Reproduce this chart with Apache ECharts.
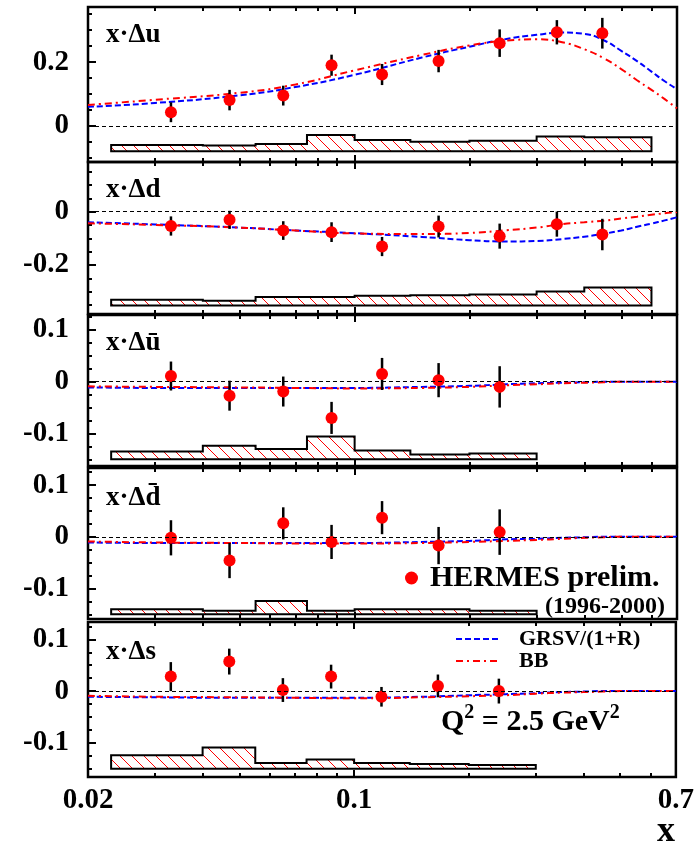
<!DOCTYPE html>
<html>
<head>
<meta charset="utf-8">
<script src="https://cdn.jsdelivr.net/npm/echarts@6/dist/echarts.min.js"></script>
<style>
  html, body { margin: 0; padding: 0; background: #fff; }
  #chart { width: 697px; height: 845px; }
</style>
</head>
<body>
<div id="chart"></div>
<script>
// x of the HERMES points, edges of the systematic-error bins, x grid of the fit curves
const pointX = [0.033, 0.047, 0.065, 0.087, 0.118, 0.166, 0.240, 0.339, 0.446];
const binEdges = [0.023, 0.04, 0.055, 0.075, 0.1, 0.14, 0.2, 0.3, 0.4, 0.6];
const curveX = [0.02, 0.03, 0.05, 0.07, 0.1, 0.15, 0.2, 0.25, 0.3, 0.35, 0.4, 0.45, 0.5, 0.55, 0.6, 0.65, 0.7];

// x·Δu
const duVal = [0.043, 0.081, 0.095, 0.190, 0.161, 0.203, 0.259, 0.293, 0.290];
const duErr = [0.031, 0.032, 0.031, 0.033, 0.033, 0.035, 0.043, 0.038, 0.048];
const duSyst = [-0.059, -0.061, -0.056, -0.028, -0.044, -0.049, -0.046, -0.033, -0.035];
const duGrsv = [0.060, 0.072, 0.096, 0.122, 0.160, 0.214, 0.248, 0.272, 0.285, 0.292, 0.288, 0.268, 0.235, 0.203, 0.170, 0.140, 0.115];
const duBb = [0.066, 0.082, 0.104, 0.130, 0.174, 0.222, 0.252, 0.267, 0.271, 0.262, 0.240, 0.212, 0.178, 0.143, 0.113, 0.084, 0.055];

// x·Δd
const ddVal = [-0.054, -0.031, -0.071, -0.077, -0.131, -0.056, -0.092, -0.047, -0.086];
const ddErr = [0.036, 0.034, 0.035, 0.037, 0.036, 0.041, 0.047, 0.047, 0.059];
const ddSyst = [-0.331, -0.334, -0.320, -0.320, -0.316, -0.314, -0.311, -0.300, -0.285];
const ddGrsv = [-0.040, -0.048, -0.060, -0.071, -0.081, -0.095, -0.107, -0.112, -0.110, -0.103, -0.094, -0.083, -0.071, -0.057, -0.045, -0.033, -0.021];
const ddBb = [-0.044, -0.050, -0.060, -0.071, -0.082, -0.084, -0.080, -0.070, -0.060, -0.047, -0.040, -0.034, -0.026, -0.019, -0.012, -0.006, -0.002];

// x·Δū
const ubVal = [0.011, -0.027, -0.019, -0.070, 0.015, 0.003, -0.010];
const ubErr = [0.028, 0.029, 0.029, 0.031, 0.031, 0.033, 0.040];
const ubSyst = [-0.135, -0.124, -0.130, -0.106, -0.133, -0.141, -0.139];
const ubGrsv = [-0.011, -0.012, -0.012, -0.012, -0.012, -0.010, -0.008, -0.005, -0.003, -0.002, -0.001, 0, 0, 0, 0, 0, 0];
const ubBb = [-0.009, -0.010, -0.011, -0.012, -0.013, -0.012, -0.010, -0.007, -0.005, -0.003, -0.002, -0.001, 0, 0, 0, 0, 0];

// x·Δd̄
const dbVal = [-0.002, -0.046, 0.026, -0.010, 0.037, -0.017, 0.009];
const dbErr = [0.034, 0.034, 0.031, 0.033, 0.032, 0.036, 0.044];
const dbSyst = [-0.140, -0.143, -0.124, -0.143, -0.140, -0.140, -0.143];
const dbGrsv = [-0.011, -0.012, -0.012, -0.012, -0.012, -0.010, -0.008, -0.005, -0.004, -0.002, -0.001, 0, 0, 0, 0, 0, 0];
const dbBb = [-0.009, -0.011, -0.012, -0.013, -0.013, -0.012, -0.010, -0.008, -0.006, -0.004, -0.002, -0.001, 0, 0, 0, 0, 0];

// x·Δs
const dsVal = [0.028, 0.057, 0.002, 0.028, -0.011, 0.010, 0.000];
const dsErr = [0.028, 0.025, 0.023, 0.023, 0.019, 0.022, 0.024];
const dsSyst = [-0.124, -0.109, -0.139, -0.132, -0.139, -0.141, -0.143];
const dsGrsv = [-0.011, -0.012, -0.013, -0.013, -0.013, -0.011, -0.008, -0.006, -0.004, -0.002, -0.001, 0, 0, 0, 0, 0, 0];
const dsBb = [-0.009, -0.011, -0.012, -0.013, -0.014, -0.012, -0.010, -0.008, -0.005, -0.003, -0.002, -0.001, 0, 0, 0, 0, 0];

// lower edge of the systematic band in each panel
const systBase = [-0.079, -0.352, -0.150, -0.150, -0.150];

const panels = [
  { label: 'x·Δu', val: duVal, err: duErr, syst: duSyst, grsv: duGrsv, bb: duBb },
  { label: 'x·Δd', val: ddVal, err: ddErr, syst: ddSyst, grsv: ddGrsv, bb: ddBb },
  { label: 'x·Δū', val: ubVal, err: ubErr, syst: ubSyst, grsv: ubGrsv, bb: ubBb },
  { label: 'x·Δd\u0304', val: dbVal, err: dbErr, syst: dbSyst, grsv: dbGrsv, bb: dbBb },
  { label: 'x·Δs', val: dsVal, err: dsErr, syst: dsSyst, grsv: dsGrsv, bb: dsBb },
];

// panel geometry and y ranges
const frames = [
  { top: 7, height: 155, min: -0.1125, max: 0.372, major: [0, 0.2], step: 0.05, labelY: 35 },
  { top: 162, height: 152, min: -0.384, max: 0.186, major: [-0.2, 0], step: 0.05, labelY: 190 },
  { top: 315, height: 151, min: -0.163, max: 0.129, major: [-0.1, 0, 0.1], step: 0.025, labelY: 343 },
  { top: 468, height: 151, min: -0.159, max: 0.133, major: [-0.1, 0, 0.1], step: 0.025, labelY: 498 },
  { top: 622, height: 155, min: -0.166, max: 0.1335, major: [-0.1, 0, 0.1], step: 0.025, labelY: 652 },
];

const xMajorTicks = [0.1];
const xMinorTicks = [0.03, 0.04, 0.05, 0.06, 0.07, 0.08, 0.09, 0.2, 0.3, 0.4, 0.5, 0.6];
const xLabels = [0.02, 0.1, 0.7];

const SERIF = '"Liberation Serif", "Times New Roman", serif';

function minorTicks(f) {
  const out = [];
  for (let k = Math.ceil(f.min / f.step); k * f.step <= f.max; k++) {
    const v = Math.round(k * f.step * 1e4) / 1e4;
    if (f.major.indexOf(v) < 0) out.push(v);
  }
  return out;
}

// red hatching for the systematic bands
const hatchCanvas = document.createElement('canvas');
hatchCanvas.width = 12;
hatchCanvas.height = 12;
const hc = hatchCanvas.getContext('2d');
hc.strokeStyle = '#ff0000';
hc.lineWidth = 1;
hc.beginPath();
hc.moveTo(0, 0); hc.lineTo(12, 12);
hc.moveTo(-2, 10); hc.lineTo(2, 14);
hc.moveTo(10, -2); hc.lineTo(14, 2);
hc.stroke();
const hatch = { image: hatchCanvas, repeat: 'repeat' };

const chart = echarts.init(document.getElementById('chart'));

const grid = [];
const xAxis = [];
const yAxis = [];
const series = [];
const graphic = [];

frames.forEach((f, i) => {
  const p = panels[i];
  const last = i === frames.length - 1;
  grid.push({
    left: 88, width: 589, top: f.top, height: f.height,
    show: true, borderColor: '#000', borderWidth: 2.5, backgroundColor: 'transparent'
  });

  const xBase = {
    type: 'log', logBase: 10, gridIndex: i, min: 0.02, max: 0.7,
    axisLine: { show: false, onZero: false }, splitLine: { show: false },
    axisLabel: { show: false }
  };
  ['bottom', 'top'].forEach(pos => {
    xAxis.push(Object.assign({}, xBase, {
      position: pos,
      axisTick: { inside: true, length: 7, customValues: xMajorTicks, lineStyle: { color: '#000', width: 2 } },
      axisLabel: (pos === 'bottom' && last) ? {
        show: true, customValues: xLabels, margin: 9, color: '#000',
        fontFamily: SERIF, fontWeight: 'bold', fontSize: 29
      } : { show: false }
    }));
    xAxis.push(Object.assign({}, xBase, {
      position: pos,
      axisTick: { inside: true, length: 4, customValues: xMinorTicks, lineStyle: { color: '#000', width: 2 } }
    }));
  });

  const yBase = {
    type: 'value', gridIndex: i, min: f.min, max: f.max, position: 'left',
    axisLine: { show: false, onZero: false }, splitLine: { show: false }
  };
  yAxis.push(Object.assign({}, yBase, {
    axisTick: { inside: true, length: 8, customValues: f.major, lineStyle: { color: '#000', width: 2 } },
    axisLabel: {
      customValues: f.major, margin: 19, color: '#000',
      fontFamily: SERIF, fontWeight: 'bold', fontSize: 29
    }
  }));
  yAxis.push(Object.assign({}, yBase, {
    axisTick: { inside: true, length: 4, customValues: minorTicks(f), lineStyle: { color: '#000', width: 2 } },
    axisLabel: { show: false }
  }));

  const xi = 4 * i;
  const yi = 2 * i;
  const base = systBase[i];

  // systematic band, one outlined step polygon
  series.push({
    type: 'custom', xAxisIndex: xi, yAxisIndex: yi, silent: true, z: 1,
    data: [[binEdges[0], base]],
    renderItem: (params, api) => {
      const pts = [api.coord([binEdges[0], base])];
      p.syst.forEach((t, k) => {
        pts.push(api.coord([binEdges[k], t]));
        pts.push(api.coord([binEdges[k + 1], t]));
      });
      pts.push(api.coord([binEdges[p.syst.length], base]));
      return {
        type: 'polygon', shape: { points: pts },
        style: { fill: hatch, stroke: '#000', lineWidth: 2 }
      };
    }
  });

  series.push({
    name: 'GRSV/(1+R)', type: 'line', xAxisIndex: xi, yAxisIndex: yi,
    data: curveX.map((x, k) => [x, p.grsv[k]]),
    smooth: true, symbol: 'none', silent: true, z: 2,
    lineStyle: { color: '#0000ff', width: 2, type: [6, 3] },
    itemStyle: { color: '#0000ff' }
  });
  series.push({
    name: 'BB', type: 'line', xAxisIndex: xi, yAxisIndex: yi,
    data: curveX.map((x, k) => [x, p.bb[k]]),
    smooth: true, symbol: 'none', silent: true, z: 2,
    lineStyle: { color: '#ff0000', width: 2, type: [7, 4, 2, 4] },
    itemStyle: { color: '#ff0000' }
  });

  // statistical error bars
  series.push({
    type: 'custom', xAxisIndex: xi, yAxisIndex: yi, silent: true, z: 3,
    data: p.val.map((v, k) => [pointX[k], v, p.err[k]]),
    renderItem: (params, api) => {
      const lo = api.coord([api.value(0), api.value(1) - api.value(2)]);
      const hi = api.coord([api.value(0), api.value(1) + api.value(2)]);
      return {
        type: 'line', shape: { x1: lo[0], y1: lo[1], x2: hi[0], y2: hi[1] },
        style: { stroke: '#000', lineWidth: 2.5 }
      };
    }
  });

  series.push({
    name: 'HERMES prelim.', type: 'scatter', xAxisIndex: xi, yAxisIndex: yi,
    data: p.val.map((v, k) => [pointX[k], v]),
    symbol: 'circle', symbolSize: 12, z: 4, silent: true,
    itemStyle: { color: '#ff0000', opacity: 1 },
    markLine: {
      silent: true, symbol: 'none', label: { show: false },
      lineStyle: { color: '#000', width: 1, type: [4, 3] },
      data: [{ yAxis: 0 }]
    }
  });

  graphic.push({
    type: 'text', x: 106, y: f.labelY,
    style: {
      text: p.label, fill: '#000', verticalAlign: 'middle',
      font: 'bold 27px ' + SERIF
    }
  });
});

graphic.push({
  type: 'text', x: 665, y: 607,
  style: { text: '(1996-2000)', fill: '#000', align: 'right', verticalAlign: 'middle', font: 'bold 24px ' + SERIF }
});
graphic.push({
  type: 'text', x: 441, y: 703,
  style: {
    text: '{n|Q}{s|2}{n| = 2.5 GeV}{s|2}', fill: '#000',
    rich: {
      n: { fontFamily: SERIF, fontWeight: 'bold', fontSize: 30, lineHeight: 34, verticalAlign: 'bottom' },
      s: { fontFamily: SERIF, fontWeight: 'bold', fontSize: 20, lineHeight: 20, verticalAlign: 'top' }
    }
  }
});
graphic.push({
  type: 'text', x: 666, y: 832,
  style: { text: 'x', fill: '#000', align: 'center', verticalAlign: 'middle', font: 'bold 36px ' + SERIF }
});

chart.setOption({
  animation: false,
  backgroundColor: '#fff',
  grid: grid,
  xAxis: xAxis,
  yAxis: yAxis,
  legend: [
    {
      data: ['HERMES prelim.'], left: 405, top: 563, padding: 0,
      itemWidth: 13, itemHeight: 13, selectedMode: false,
      itemStyle: { opacity: 1 },
      textStyle: { color: '#000', fontFamily: SERIF, fontWeight: 'bold', fontSize: 30, lineHeight: 30, padding: [0, 0, 0, 7] }
    },
    {
      data: ['GRSV/(1+R)', 'BB'], orient: 'vertical', left: 455, top: 628, padding: 0,
      itemWidth: 45, itemHeight: 10, itemGap: 0, selectedMode: false,
      itemStyle: { opacity: 0 },
      textStyle: { color: '#000', fontFamily: SERIF, fontWeight: 'bold', fontSize: 22, lineHeight: 21, padding: [0, 0, 0, 13] }
    }
  ],
  graphic: graphic,
  series: series
});
</script>
</body>
</html>
